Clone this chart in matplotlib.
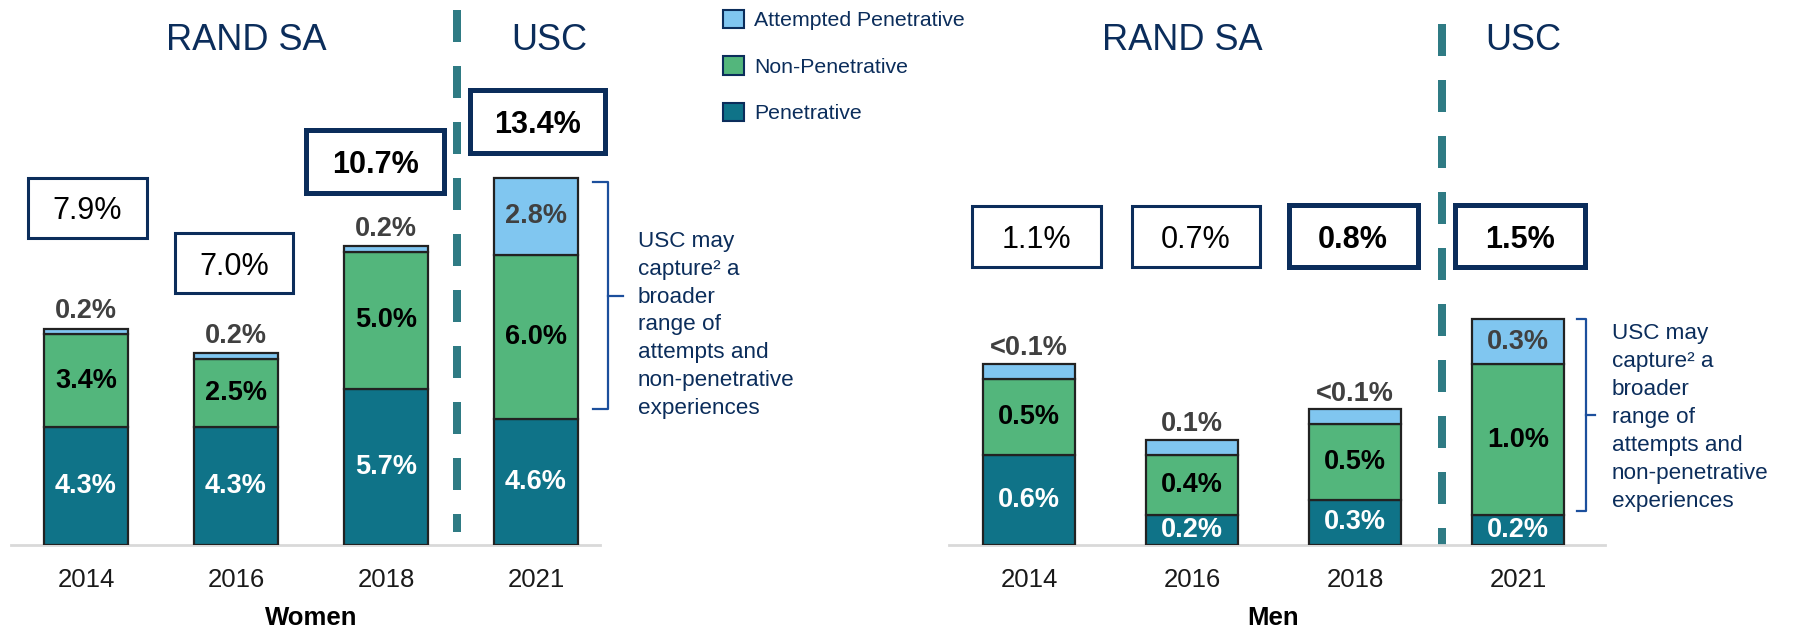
import matplotlib.pyplot as plt
from matplotlib.patches import Rectangle, Patch

plt.rcParams['font.family'] = ['Liberation Sans', 'DejaVu Sans']

# data
years = ['2014', '2016', '2018', '2021']

women_pen = [4.3, 4.3, 5.7, 4.6]
women_nonpen = [3.4, 2.5, 5.0, 6.0]
women_att = [0.2, 0.2, 0.2, 2.8]
women_att_labels = ['0.2%', '0.2%', '0.2%', '2.8%']
women_total = ['7.9%', '7.0%', '10.7%', '13.4%']

men_pen = [0.6, 0.2, 0.3, 0.2]
men_nonpen = [0.5, 0.4, 0.5, 1.0]
men_att = [0.1, 0.1, 0.1, 0.3]   # drawn height; small ones are labelled "<0.1%"
men_att_labels = ['<0.1%', '0.1%', '<0.1%', '0.3%']
men_total = ['1.1%', '0.7%', '0.8%', '1.5%']

PEN = '#0f7388'
NONPEN = '#53b67c'
ATT = '#80c6f0'
EDGE = '#222222'
NAVY = '#0b2d5b'
DASH = '#2f7b84'
BRACE = '#1c4f9c'
GRAY = '#404040'

NOTE = "USC may\ncapture\u00b2 a\nbroader\nrange of\nattempts and\nnon-penetrative\nexperiences"


def px(ax, dx, dy):
    # pixel size -> data size
    inv = ax.transData.inverted()
    (x0, y0), (x1, y1) = inv.transform([(0, 0), (dx, dy)])
    return x1 - x0, y1 - y0


def panel(ax, pen, nonpen, att, att_labels, totals, lay):
    x = list(range(len(years)))
    w = lay['width']
    kw = dict(edgecolor=EDGE, linewidth=1.6, zorder=3)
    b1 = ax.bar(x, pen, w, color=PEN, **kw)
    b2 = ax.bar(x, nonpen, w, bottom=pen, color=NONPEN, **kw)
    tops = [p + n for p, n in zip(pen, nonpen)]
    b3 = ax.bar(x, att, w, bottom=tops, color=ATT, **kw)

    lab = dict(fontsize=19.5, fontweight='bold')
    ax.bar_label(b1, labels=['%.1f%%' % v for v in pen], label_type='center',
                 color='white', **lab)
    ax.bar_label(b2, labels=['%.1f%%' % v for v in nonpen], label_type='center',
                 color='black', **lab)
    inside = [l if i == 3 else '' for i, l in enumerate(att_labels)]
    above = [l if i != 3 else '' for i, l in enumerate(att_labels)]
    ax.bar_label(b3, labels=inside, label_type='center', color=GRAY, **lab)
    ax.bar_label(b3, labels=above, padding=lay['pad'], color=GRAY, **lab)

    # total boxes
    for i, t in enumerate(totals):
        bold = i >= 2
        bw, bh = px(ax, *lay['box_px'][i])
        cx, cy = lay['box_x'][i], lay['box_y'][i]
        ax.add_patch(Rectangle((cx - bw / 2, cy - bh / 2), bw, bh, fill=False,
                               edgecolor=NAVY, linewidth=3.6 if bold else 2.2,
                               joinstyle='miter', clip_on=False, zorder=4))
        ax.text(cx, cy, t, ha='center', va='center_baseline', fontsize=22,
                fontweight='bold' if bold else 'normal', color='black')

    # RAND SA / USC divider
    ax.plot([lay['div_x']] * 2, lay['div_y'], color=DASH, linewidth=5.76,
            linestyle=(0, (4, 3)), solid_capstyle='butt', dash_capstyle='butt',
            clip_on=False, zorder=2)
    tr = ax.get_xaxis_transform()
    ax.text(lay['rand_x'], 0.908, 'RAND SA', transform=tr, ha='center',
            va='baseline', fontsize=26, color=NAVY)
    ax.text(lay['usc_x'], 0.908, 'USC', transform=tr, ha='center',
            va='baseline', fontsize=26, color=NAVY)

    # brace and note
    bx, hx, tx = lay['brace_x']
    y0, ym, y1 = lay['brace_y']
    ax.plot([hx, bx, bx, hx], [y1, y1, y0, y0], color=BRACE, linewidth=1.6,
            clip_on=False)
    ax.plot([bx, tx], [ym, ym], color=BRACE, linewidth=1.6, clip_on=False)
    ax.text(lay['note_x'], lay['note_y'], NOTE, ha='left', va='center',
            fontsize=16.2, color=NAVY, linespacing=1.43, clip_on=False)

    ax.text(1.5, -0.1468, lay['name'], transform=tr, ha='center', va='baseline',
            fontsize=18.5, fontweight='bold', color='black')

    ax.set_xticks(x, years)
    ax.set_yticks([])
    ax.tick_params(axis='x', length=0, pad=16.5, labelsize=18.5, labelcolor='#1a1a1a')
    for s in ['top', 'left', 'right']:
        ax.spines[s].set_visible(False)
    ax.spines['bottom'].set_color('#d9d9d9')
    ax.spines['bottom'].set_linewidth(2)
    ax.patch.set_visible(False)


fig = plt.figure(figsize=(17.96, 6.28), dpi=100)
W, H = 1796, 628
base = 545

ax_w = fig.add_axes([11 / W, (H - base) / H, (600 - 11) / W, base / H])
ax_w.set_xlim(-0.5, 3.4267)
ax_w.set_ylim(0, base / 27.4)

ax_m = fig.add_axes([949 / W, (H - base) / H, (1605 - 949) / W, base / H])
ax_m.set_xlim(-0.4908, 3.5337)
ax_m.set_ylim(0, base / 150.7)

women_lay = dict(
    name='Women', width=0.56, pad=3,
    box_x=[0.01, 0.99, 1.93, 3.01], box_y=[12.30, 10.29, 14.0, 15.46],
    box_px=[(119, 60), (118, 60), (138, 63), (135, 63)],
    div_x=2.473, div_y=[19.53, 0.474],
    rand_x=1.07, usc_x=3.087,
    brace_x=(3.48, 3.38, 3.58), brace_y=(4.96, 9.09, 13.25),
    note_x=3.68, note_y=8.03,
)
men_lay = dict(
    name='Men', width=0.564, pad=2,
    box_x=[0.043, 1.025, 1.988, 3.012], box_y=[2.05, 2.05, 2.05, 2.05],
    box_px=[(129, 61), (128, 61), (129, 62), (130, 62)],
    div_x=2.534, div_y=[3.457, 0.0],
    rand_x=0.939, usc_x=3.031,
    brace_x=(3.417, 3.362, 3.472), brace_y=(0.226, 0.863, 1.50),
    note_x=3.577, note_y=0.846,
)

panel(ax_w, women_pen, women_nonpen, women_att, women_att_labels, women_total, women_lay)
panel(ax_m, men_pen, men_nonpen, men_att, men_att_labels, men_total, men_lay)

handles = [Patch(facecolor=ATT, edgecolor=NAVY, linewidth=1.5, label='Attempted Penetrative'),
           Patch(facecolor=NONPEN, edgecolor=NAVY, linewidth=1.5, label='Non-Penetrative'),
           Patch(facecolor=PEN, edgecolor=NAVY, linewidth=1.5, label='Penetrative')]
fig.legend(handles=handles, loc='upper left', bbox_to_anchor=(723 / W, 1 - 10 / H),
           frameon=False, fontsize=15.3, handlelength=1.0, handleheight=0.94,
           handletextpad=0.47, labelspacing=1.22, borderpad=0, borderaxespad=0,
           labelcolor=NAVY)

fig.savefig('out.png', dpi=100)
